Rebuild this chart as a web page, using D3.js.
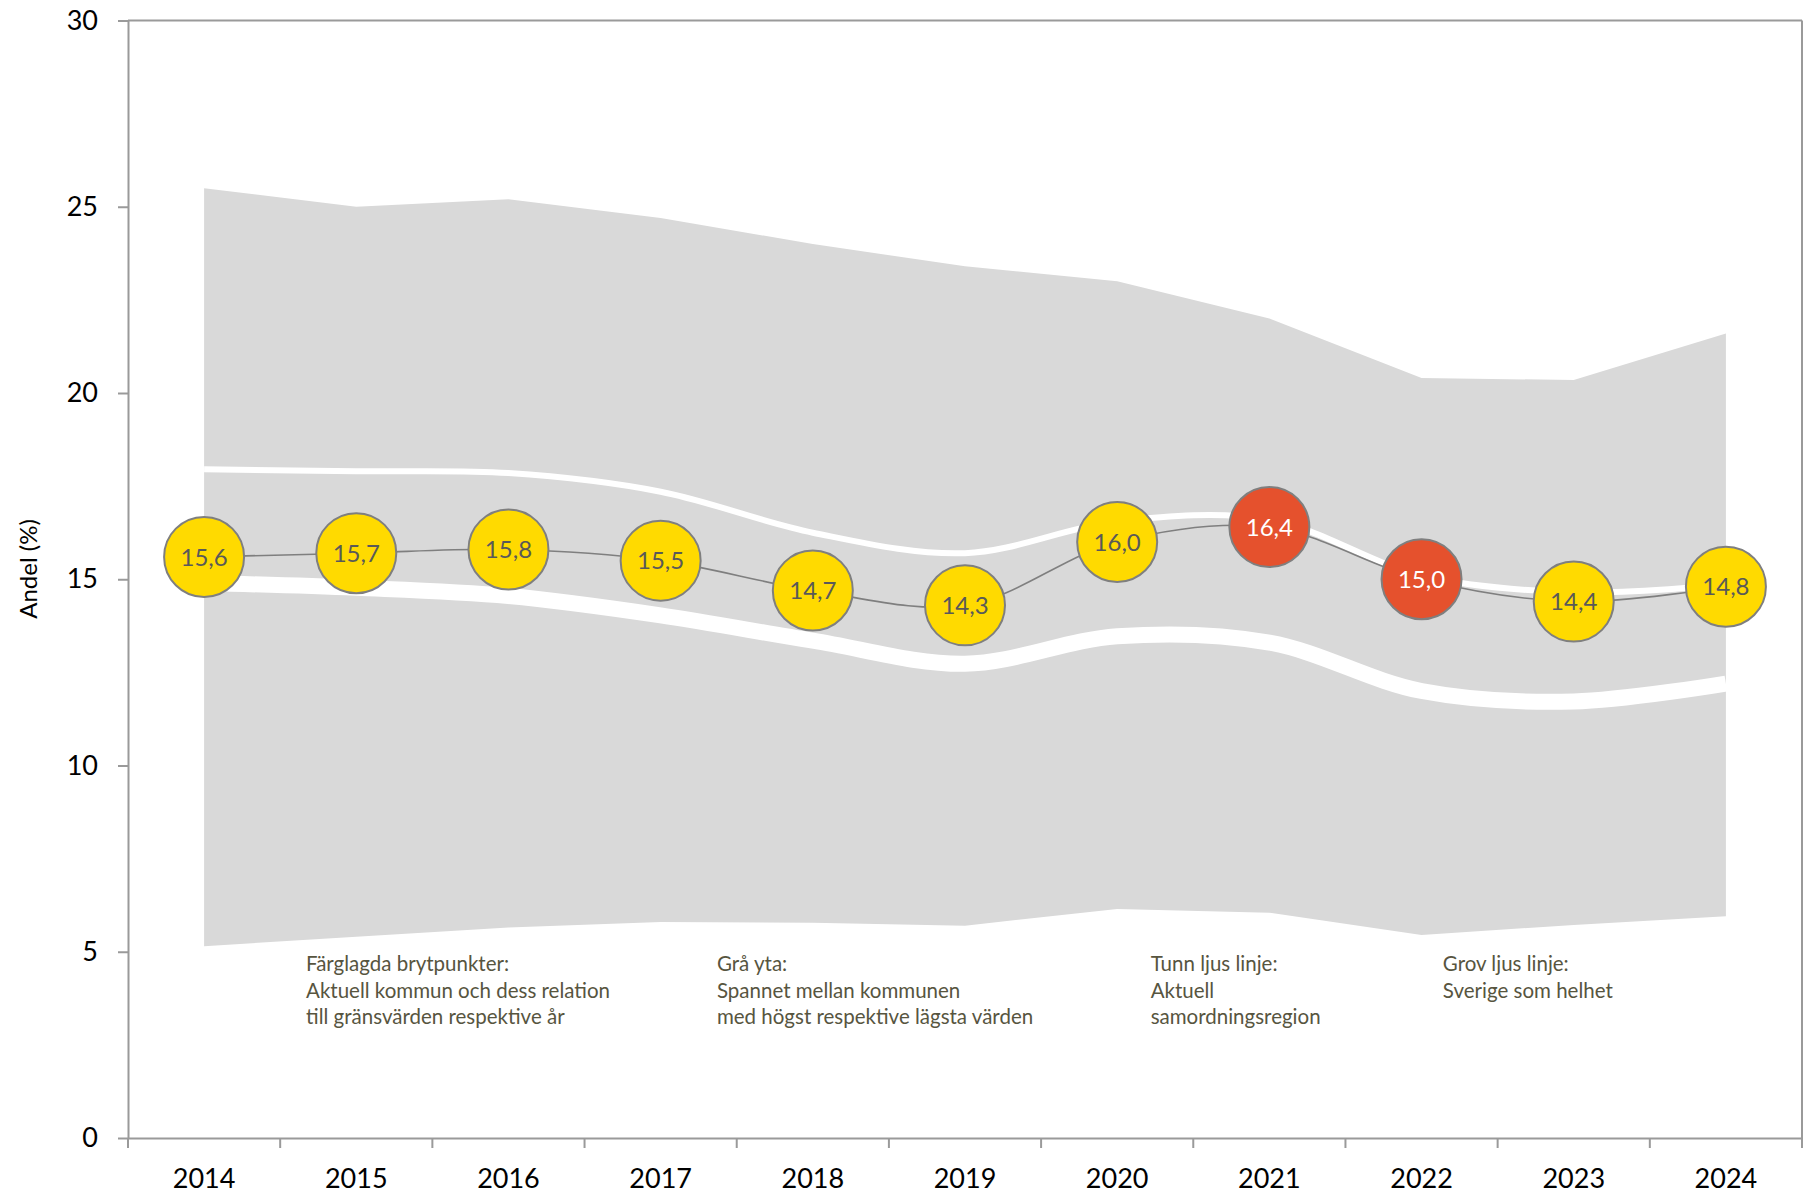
<!DOCTYPE html>
<html>
<head>
<meta charset="utf-8">
<script src="https://cdn.jsdelivr.net/npm/d3@7"></script>
<style>
  body { margin: 0; background: #fff; }
  svg text { font-family: Lato, "Open Sans", sans-serif; }
</style>
</head>
<body>
<svg id="chart" width="1815" height="1194"></svg>
<script>
// data
const years = [2014, 2015, 2016, 2017, 2018, 2019, 2020, 2021, 2022, 2023, 2024];
const kommun = [15.6, 15.7, 15.8, 15.5, 14.7, 14.3, 16.0, 16.4, 15.0, 14.4, 14.8];
const niva = ["mid", "mid", "mid", "mid", "mid", "mid", "mid", "high", "high", "mid", "mid"];
const spanMax = [25.5, 25.0, 25.2, 24.7, 24.0, 23.4, 23.0, 22.0, 20.4, 20.35, 21.6];
const spanMin = [5.15, 5.4, 5.65, 5.8, 5.78, 5.7, 6.15, 6.05, 5.45, 5.72, 5.95];
const region = [17.95, 17.9, 17.85, 17.35, 16.25, 15.7, 16.55, 16.6, 15.1, 14.65, 14.85];
const sverige = [14.9, 14.77, 14.55, 14.03, 13.35, 12.73, 13.47, 13.3, 12.0, 11.72, 12.2];
const yTicks = [0, 5, 10, 15, 20, 25, 30];
const notes = [
    ["Färglagda brytpunkter:", "Aktuell kommun och dess relation", "till gränsvärden respektive år"],
    ["Grå yta:", "Spannet mellan kommunen", "med högst respektive lägsta värden"],
    ["Tunn ljus linje:", "Aktuell", "samordningsregion"],
    ["Grov ljus linje:", "Sverige som helhet"]
];

// where each note box starts, in category widths from the left axis
const notePos = [1.17, 3.87, 6.72, 8.64];

const margin = {top: 20.5, right: 13, bottom: 56, left: 128};
const width = 1815, height = 1194;

const svg = d3.select("#chart");

const x = d3.scaleBand()
    .domain(years)
    .range([margin.left, width - margin.right])
    .padding(0);

const y = d3.scaleLinear()
    .domain([0, 30])
    .range([height - margin.bottom, margin.top]);

const cx = (yr) => x(yr) + x.bandwidth() / 2;

const color = d3.scaleOrdinal()
    .domain(["mid", "high"])
    .range(["#FFDA00", "#E5512D"]);

const textColor = d3.scaleOrdinal()
    .domain(["mid", "high"])
    .range(["#595959", "#ffffff"]);

// grey span between min and max
const area = d3.area()
    .x((d, i) => cx(years[i]))
    .y0((d, i) => y(spanMin[i]))
    .y1((d) => y(d));

svg.append("path")
    .datum(spanMax)
    .attr("d", area)
    .attr("fill", "#d9d9d9");

const smooth = d3.line()
    .x((d, i) => cx(years[i]))
    .y((d) => y(d))
    .curve(d3.curveCatmullRom.alpha(0.5));

// Sverige, thick light line
svg.append("path")
    .datum(sverige)
    .attr("d", smooth)
    .attr("fill", "none")
    .attr("stroke", "#ffffff")
    .attr("stroke-width", 16);

// samordningsregion, thin light line
svg.append("path")
    .datum(region)
    .attr("d", smooth)
    .attr("fill", "none")
    .attr("stroke", "#ffffff")
    .attr("stroke-width", 6);

// kommun line
svg.append("path")
    .datum(kommun)
    .attr("d", smooth)
    .attr("fill", "none")
    .attr("stroke", "#7f7f7f")
    .attr("stroke-width", 1.6);

// axes
const yAxis = d3.axisLeft(y)
    .tickValues(yTicks)
    .tickSize(10)
    .tickSizeOuter(0)
    .tickPadding(20)
    .tickFormat(d3.format("d"));

const gy = svg.append("g")
    .attr("transform", "translate(" + margin.left + ",0)")
    .call(yAxis);

gy.selectAll("text")
    .attr("font-size", 27)
    .attr("fill", "#000");

const xAxis = d3.axisBottom(x)
    .tickSize(0)
    .tickSizeOuter(0)
    .tickPadding(31);

const gx = svg.append("g")
    .attr("transform", "translate(0," + y(0) + ")")
    .call(xAxis);

gx.selectAll("text")
    .attr("font-size", 27)
    .attr("fill", "#000");

// tick marks on the category boundaries
const bounds = years.map((d) => x(d)).concat([x.range()[1]]);
gx.selectAll(".bound")
    .data(bounds)
    .enter()
    .append("line")
    .attr("class", "bound")
    .attr("x1", (d) => d)
    .attr("x2", (d) => d)
    .attr("y1", 0)
    .attr("y2", 10);

// top and right frame
svg.append("line")
    .attr("class", "frame")
    .attr("x1", x.range()[0]).attr("x2", x.range()[1])
    .attr("y1", y(30)).attr("y2", y(30));
svg.append("line")
    .attr("class", "frame")
    .attr("x1", x.range()[1]).attr("x2", x.range()[1])
    .attr("y1", y(30)).attr("y2", y(0));

svg.selectAll(".domain, .tick line, .bound, .frame")
    .attr("stroke", "#9a9a9a")
    .attr("stroke-width", 2);

// axis title
svg.append("text")
    .attr("transform", "translate(37,569) rotate(-90)")
    .attr("text-anchor", "middle")
    .attr("font-size", 24)
    .attr("fill", "#000")
    .text("Andel (%)");

// bubbles
const dots = svg.selectAll(".dot")
    .data(kommun)
    .enter()
    .append("g")
    .attr("class", "dot")
    .attr("transform", (d, i) => "translate(" + cx(years[i]) + "," + y(d) + ")");

dots.append("circle")
    .attr("r", 40)
    .attr("fill", (d, i) => color(niva[i]))
    .attr("stroke", "#7f7f7f")
    .attr("stroke-width", 2);

dots.append("text")
    .attr("text-anchor", "middle")
    .attr("dy", "0.36em")
    .attr("font-size", 24)
    .attr("fill", (d, i) => textColor(niva[i]))
    .text((d) => d3.format(".1f")(d).replace(".", ","));

// notes under the chart
const noteG = svg.selectAll(".note")
    .data(notes)
    .enter()
    .append("text")
    .attr("class", "note")
    .attr("font-size", 20.5)
    .attr("fill", "#57553f");

noteG.selectAll("tspan")
    .data((d, i) => d.map((line) => ({line: line, pos: notePos[i]})))
    .enter()
    .append("tspan")
    .attr("x", (d) => x.range()[0] + d.pos * x.bandwidth())
    .attr("y", (d, j) => 971 + j * 26.5)
    .text((d) => d.line);
</script>
</body>
</html>
